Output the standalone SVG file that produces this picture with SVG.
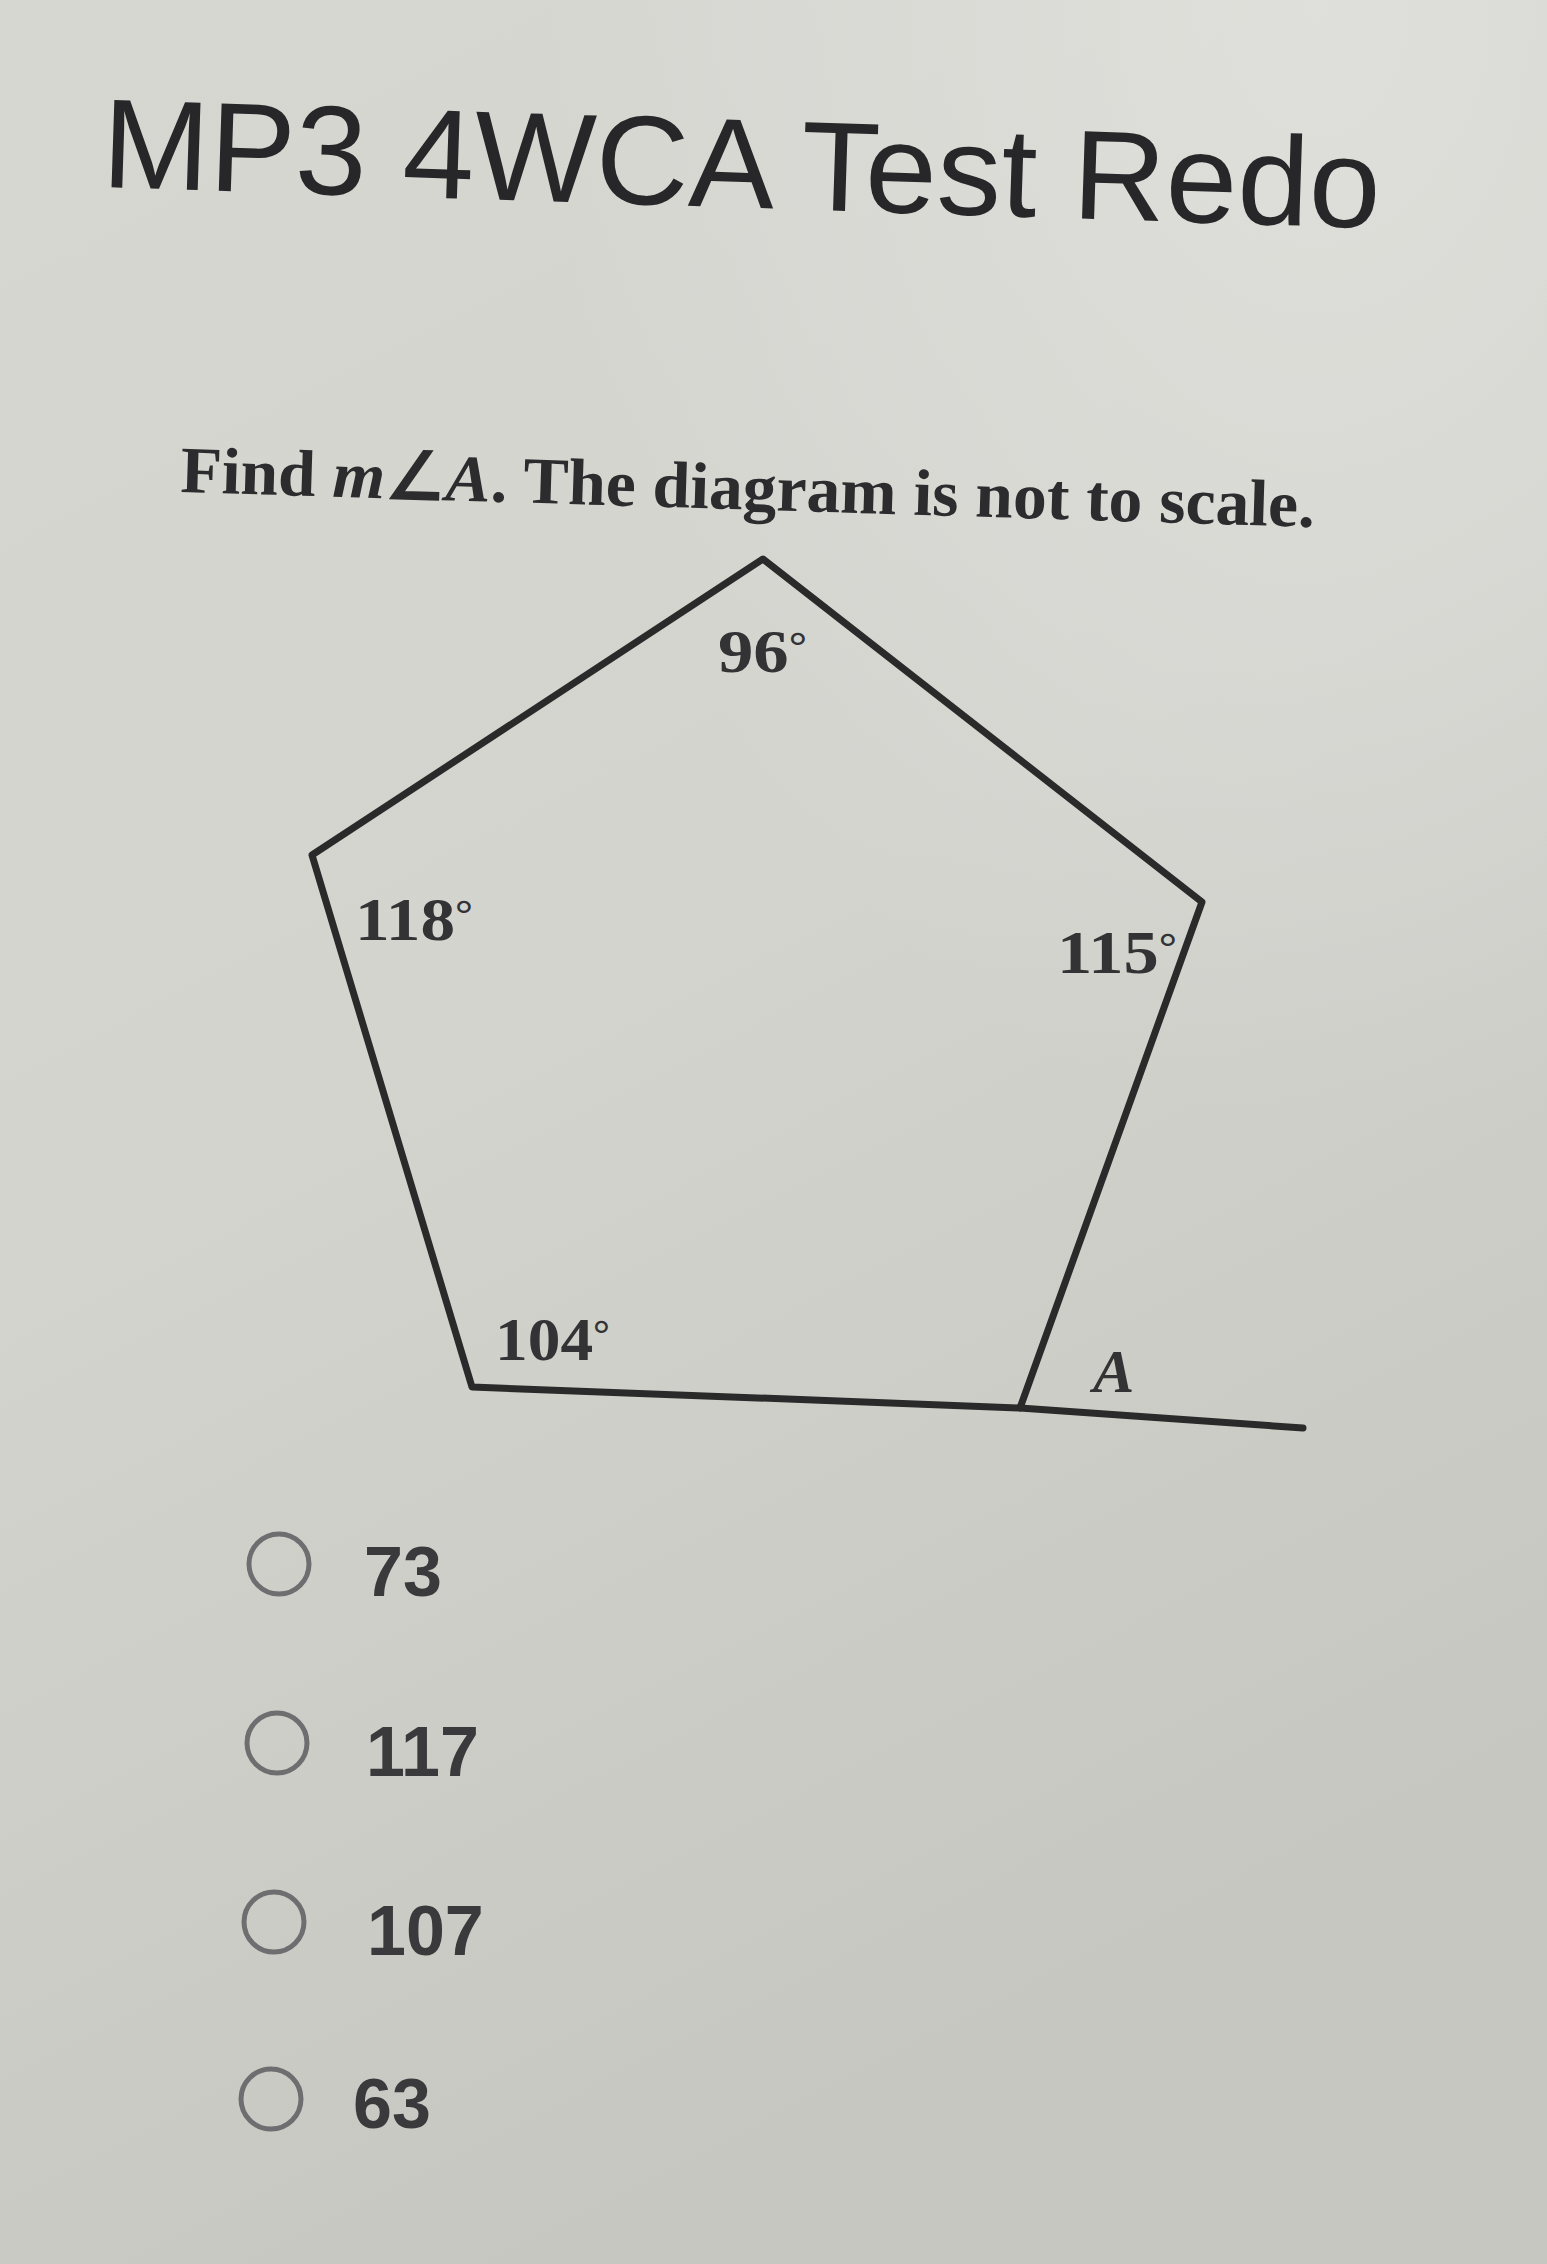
<svg xmlns="http://www.w3.org/2000/svg" width="1547" height="2264" viewBox="0 0 1547 2264">
  <defs>
    <linearGradient id="bg" x1="0" y1="0" x2="0.35" y2="1">
      <stop offset="0" stop-color="#d6d7d1"/>
      <stop offset="0.5" stop-color="#d3d4ce"/>
      <stop offset="1" stop-color="#c6c7c1"/>
    </linearGradient>
    <radialGradient id="glow" cx="0.85" cy="0" r="0.5">
      <stop offset="0" stop-color="#e4e4e0" stop-opacity="0.7"/>
      <stop offset="1" stop-color="#e4e4e0" stop-opacity="0"/>
    </radialGradient>
    <style>
      .title { font-family: "Liberation Sans", Arial, sans-serif; font-size: 127px; fill: #27272a; }
      .q { font-family: "Liberation Serif", "Times New Roman", serif; font-weight: bold; font-size: 66px; fill: #2c2c2e; }
      .lbl { font-family: "Liberation Serif", "Times New Roman", serif; font-weight: bold; font-size: 62px; fill: #333335; }
      .deg { font-size: 40px; }
      .edge { fill: none; stroke: #2a2a2b; stroke-width: 7; stroke-linejoin: round; stroke-linecap: round; }
      .radio { fill: none; stroke: #6e6e70; stroke-width: 5; }
      .opt { font-family: "Liberation Sans", Arial, sans-serif; font-weight: bold; font-size: 70px; fill: #3a3a3d; }
    </style>
  </defs>
  <rect x="0" y="0" width="1547" height="2264" fill="url(#bg)"/>
  <rect x="0" y="0" width="1547" height="2264" fill="url(#glow)"/>

  <g id="title">
    <text class="title" x="101" y="187" textLength="1279" lengthAdjust="spacingAndGlyphs" transform="rotate(1.84 101 187)">MP3 4WCA Test Redo</text>
  </g>

  <g id="question">
    <text class="q" x="180" y="492" textLength="1135" lengthAdjust="spacingAndGlyphs" transform="rotate(1.77 180 492)">Find <tspan font-style="italic">m</tspan>∠<tspan font-style="italic">A</tspan>. The diagram is not to scale.</text>
  </g>

  <g id="connectors">
    <polygon id="pentagon" class="edge" points="763,559 1202,902 1020,1408 472,1387 312,855"/>
    <line id="extension" class="edge" x1="1020" y1="1408" x2="1303" y2="1428"/>
  </g>

  <g id="angle-96">
    <text class="lbl" x="718" y="672" textLength="89" lengthAdjust="spacingAndGlyphs">96<tspan class="deg" dy="-12">°</tspan></text>
  </g>
  <g id="angle-118">
    <text class="lbl" x="355" y="940" textLength="118" lengthAdjust="spacingAndGlyphs">118<tspan class="deg" dy="-12">°</tspan></text>
  </g>
  <g id="angle-115">
    <text class="lbl" x="1057" y="973" textLength="120" lengthAdjust="spacingAndGlyphs">115<tspan class="deg" dy="-12">°</tspan></text>
  </g>
  <g id="angle-104">
    <text class="lbl" x="495" y="1360" textLength="115" lengthAdjust="spacingAndGlyphs">104<tspan class="deg" dy="-12">°</tspan></text>
  </g>
  <g id="angle-A">
    <text class="lbl" x="1093" y="1392" font-style="italic">A</text>
  </g>

  <g id="option-73">
    <circle class="radio" cx="279" cy="1564" r="30"/>
    <text class="opt" x="364" y="1596">73</text>
  </g>
  <g id="option-117">
    <circle class="radio" cx="277" cy="1743" r="30"/>
    <text class="opt" x="366" y="1776">117</text>
  </g>
  <g id="option-107">
    <circle class="radio" cx="274" cy="1922" r="30"/>
    <text class="opt" x="367" y="1955">107</text>
  </g>
  <g id="option-63">
    <circle class="radio" cx="271" cy="2099" r="30"/>
    <text class="opt" x="353" y="2128">63</text>
  </g>
</svg>
